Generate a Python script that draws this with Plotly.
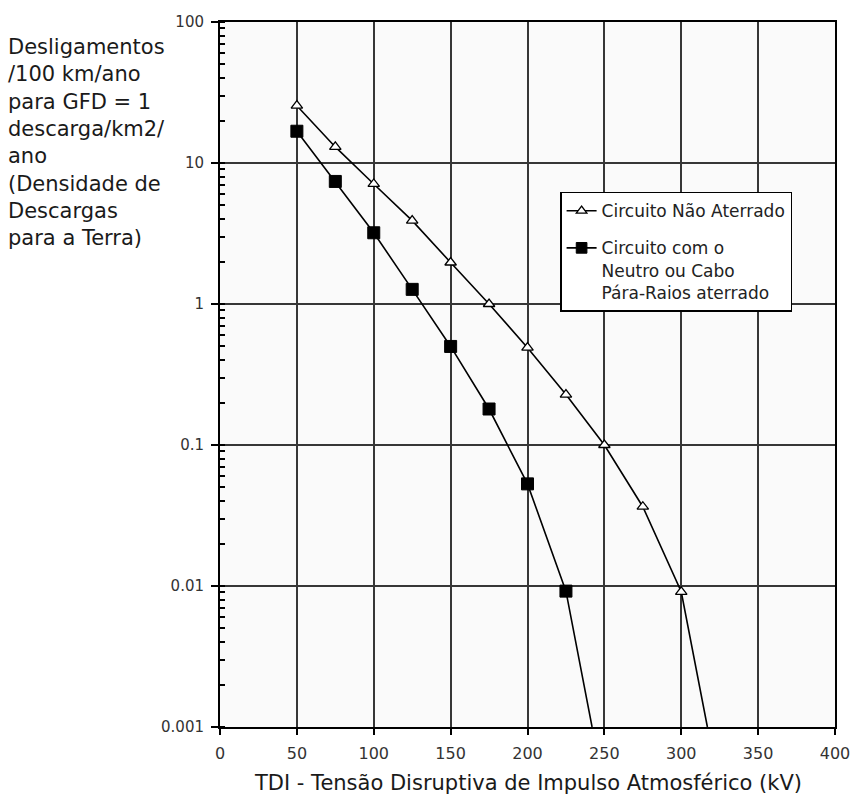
import plotly.graph_objects as go

# Outage rate per 100 km/year (GFD = 1) versus impulse flashover voltage (kV)
tdi_nao_aterrado = [50, 75, 100, 125, 150, 175, 200, 225, 250, 275, 300, 317]
deslig_nao_aterrado = [25.5, 13.0, 7.1, 3.9, 1.97, 1.0, 0.49, 0.228, 0.1, 0.0365, 0.0091, 0.001]

tdi_aterrado = [50, 75, 100, 125, 150, 175, 200, 225, 242]
deslig_aterrado = [16.8, 7.4, 3.2, 1.27, 0.50, 0.18, 0.053, 0.0092, 0.001]

x_ticks = [0, 50, 100, 150, 200, 250, 300, 350, 400]
y_tickvals = [100, 10, 1, 0.1, 0.01, 0.001]
y_ticktext = ["100", "10", "1", "0.1", "0.01", "0.001"]

nome_nao_aterrado = "Circuito Não Aterrado"
nome_aterrado = "Circuito com o<br>Neutro ou Cabo<br>Pára-Raios aterrado"
titulo_x = "TDI - Tensão Disruptiva de Impulso Atmosférico (kV)"
titulo_y = ("Desligamentos<br>/100 km/ano<br>para GFD = 1<br>descarga/km2/<br>ano<br>"
            "(Densidade de<br>Descargas<br>para a Terra)")

FONTE = "DejaVu Sans, Verdana, sans-serif"


# the last point of each curve is where it leaves the chart floor: no marker there
def marker_sizes(values, size):
    return [size if v > 0.001 else 0 for v in values]


fig = go.Figure()
fig.add_trace(go.Scatter(
    x=tdi_nao_aterrado, y=deslig_nao_aterrado, name=nome_nao_aterrado,
    mode="lines+markers", legendgroup="a",
    line=dict(color="black", width=1.6),
    marker=dict(symbol="triangle-up", size=marker_sizes(deslig_nao_aterrado, 10),
                color="white", opacity=1, line=dict(color="black", width=1.3)),
))
fig.add_trace(go.Scatter(
    x=tdi_aterrado, y=deslig_aterrado, name=nome_aterrado,
    mode="lines+markers", legendgroup="b",
    line=dict(color="black", width=1.6),
    marker=dict(symbol="square", size=marker_sizes(deslig_aterrado, 12),
                color="black", opacity=1, line=dict(color="black", width=1)),
))

fig.update_xaxes(
    range=[0, 400], tickvals=x_ticks, ticktext=[str(v) for v in x_ticks],
    showgrid=True, gridcolor="#363636", gridwidth=1.6,
    showline=True, linecolor="black", linewidth=2, mirror=True,
    ticks="outside", ticklen=6, tickcolor="black", tickwidth=1.5,
    ticklabelstandoff=5, automargin=False, ticklabeloverflow="allow",
    tickfont=dict(family=FONTE, size=16, color="#333333"), zeroline=False,
)
fig.update_yaxes(
    type="log", range=[-3, 2], tickvals=y_tickvals, ticktext=y_ticktext,
    showgrid=True, gridcolor="#363636", gridwidth=1.6,
    showline=True, linecolor="black", linewidth=2, mirror=True,
    ticks="outside", ticklen=7, tickcolor="black", tickwidth=1.5,
    ticklabelstandoff=4, automargin=False, ticklabeloverflow="allow",
    tickfont=dict(family=FONTE, size=15, color="#333333"), zeroline=False,
    minor=dict(ticks="inside", ticklen=5, tickcolor="black", tickwidth=1.5,
               dtick="D1", showgrid=False),
)

fig.add_annotation(
    text=titulo_y, xref="paper", yref="paper", x=-0.3485, y=0.984,
    xanchor="left", yanchor="top", align="left", showarrow=False,
    font=dict(family=FONTE, size=21, color="#1a1a1a"),
)
fig.add_annotation(
    text=titulo_x, xref="paper", yref="paper", x=0.5, y=-0.0794,
    xanchor="center", yanchor="middle", showarrow=False,
    font=dict(family=FONTE, size=21, color="#1a1a1a"),
)

fig.update_layout(
    width=854, height=800,
    margin=dict(l=220, r=19, t=22, b=73),
    paper_bgcolor="white", plot_bgcolor="#fafafa",
    showlegend=True,
    legend=dict(
        x=0.553, y=0.7593, xanchor="left", yanchor="top",
        bgcolor="white", bordercolor="black", borderwidth=1.5,
        font=dict(family=FONTE, size=17, color="#222222"),
        traceorder="grouped", tracegroupgap=12, valign="top",
    ),
)

fig.write_html("out.html")
